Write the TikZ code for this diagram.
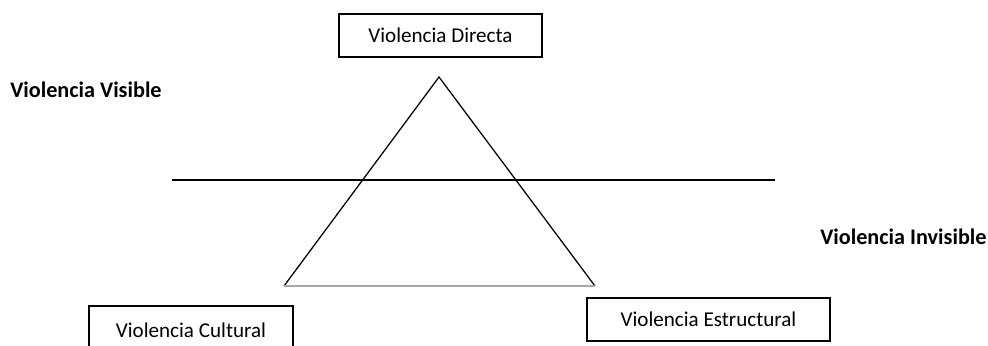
\documentclass[tikz,border=0pt]{standalone}
\usepackage{fontspec}
\setmainfont{Carlito}
\begin{document}
\begin{tikzpicture}[x=0.025cm,y=-0.025cm,
  caja/.style={draw,line width=1pt,minimum height=43*0.025cm,inner sep=0pt,font=\fontsize{15}{18}\selectfont},
  etiqueta/.style={anchor=west,inner sep=0pt,font=\fontsize{15.8}{19}\selectfont\bfseries}]
\clip(0,0)rectangle(988,345);
\node[caja,minimum width=203*0.025cm](directa) at (440.5,35.5){Violencia Directa};
\node[caja,minimum width=204*0.025cm,minimum height=48*0.025cm](cultural) at (191,330){Violencia Cultural};
\node[caja,minimum width=243*0.025cm](estructural) at (708.5,319.5){Violencia Estructural};
\node[etiqueta](visible) at (10,90){Violencia Visible};
\node[etiqueta](invisible) at (820,237){Violencia Invisible};
% triangulo
\coordinate(cima) at (439,77);
\coordinate(izq) at (284,286);
\coordinate(der) at (595,286);
\draw[line width=0.9pt](izq)--(cima)--(der);
\draw[gray!70,line width=1.4pt](izq)--(der);
% linea horizontal
\coordinate(a) at (172,180);
\coordinate(b) at (775,180);
\draw[line width=0.9pt](a)--(b);
\end{tikzpicture}
\end{document}
